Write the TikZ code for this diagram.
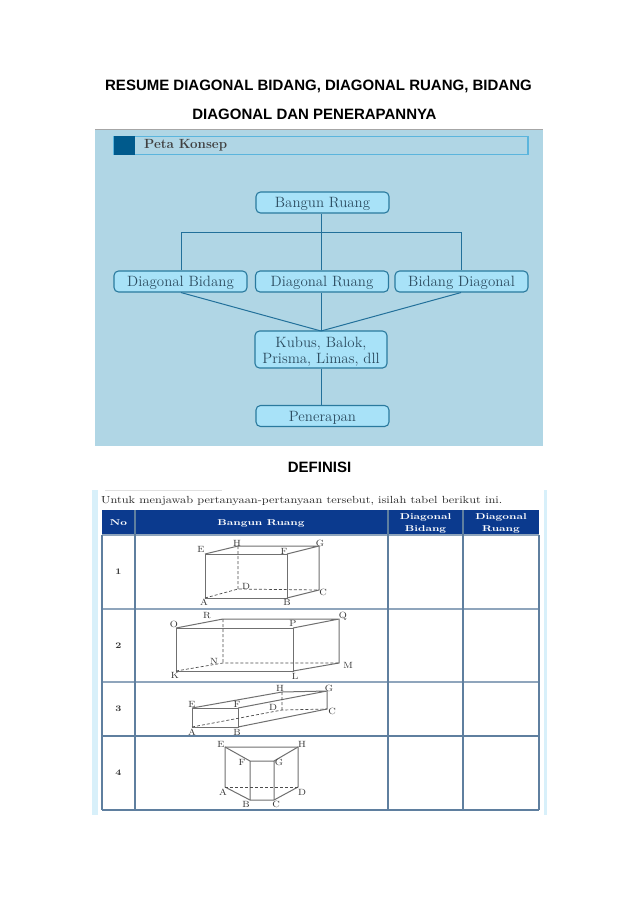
\documentclass[tikz,border=0pt]{standalone}
\usepackage{fontspec}
\setsansfont{Liberation Sans}
\definecolor{panel}{HTML}{B0D6E5}
\definecolor{boxfill}{HTML}{A8E2F8}
\definecolor{boxline}{HTML}{2A7A9E}
\definecolor{conn}{HTML}{22709A}
\definecolor{barline}{HTML}{5BB5DD}
\definecolor{square}{HTML}{005A8C}
\definecolor{boxtext}{HTML}{2C4C60}
\definecolor{headblue}{HTML}{0B3A8E}
\definecolor{tabline}{HTML}{5F7F9F}
\definecolor{strip}{HTML}{D8F0FA}
\definecolor{solidline}{HTML}{707070}
\tikzset{
 heading/.style={font=\sffamily\bfseries\fontsize{15}{17}\selectfont,text=black,inner sep=0pt,anchor=center},
 conceptbox/.style={draw=boxline,line width=1.1pt,fill=boxfill,rounded corners=4.5pt,minimum width=133pt,minimum height=21pt,inner sep=0pt,align=center,text=boxtext,font=\fontsize{14.9}{16}\selectfont},
 singleline/.style={text height=11pt,text depth=1pt},
 link/.style={draw=conn,line width=1pt},
 headtext/.style={text=white,font=\bfseries\fontsize{8.5}{12}\selectfont,inner sep=0pt,align=center,xscale=1.33,transform shape},
 rowno/.style={text=black!80,font=\bfseries\fontsize{8.5}{10}\selectfont,inner sep=0pt,xscale=1.2,transform shape},
 vlabel/.style={text=black!80,font=\fontsize{9}{10}\selectfont,inner sep=0pt,xscale=1.12,transform shape},
 solidedge/.style={draw=solidline,line width=1pt},
 hiddenedge/.style={draw=black!70,line width=0.7pt,densely dashed},
 tabrule/.style={draw=tabline,line width=1.2pt},
}
\begin{document}
\begin{tikzpicture}[x=1pt,y=-1pt]
\useasboundingbox (0,0) rectangle (638,903);
\fill[white] (0,0) rectangle (638,903);
\node[heading] (t1) at (318.5,86) {RESUME DIAGONAL BIDANG, DIAGONAL RUANG, BIDANG};
\node[heading] (t2) at (314.5,114) {DIAGONAL DAN PENERAPANNYA};
\node[heading] (t3) at (319.5,467) {DEFINISI};
% concept panel
\fill[panel] (95,129) rectangle (543,446);
\draw[black!35,line width=0.6pt] (95,129) -- (543,129);
\draw[barline,line width=1.2pt] (114,136.5) rectangle (528,154.5);
\fill[square] (114,136) rectangle (135,155);
\node[anchor=west,inner sep=0pt,text=black!75,font=\bfseries\fontsize{13.3}{15}\selectfont] (pk) at (144,145) {Peta Konsep};
\node[conceptbox,singleline] (br) at (322.5,202.5) {Bangun Ruang};
\node[conceptbox,singleline] (db) at (180.5,281.5) {Diagonal Bidang};
\node[conceptbox,singleline] (dr) at (322,281.5) {Diagonal Ruang};
\node[conceptbox,singleline] (bd) at (461.5,281.5) {Bidang Diagonal};
\node[conceptbox,minimum height=37pt,minimum width=132pt] (kb) at (321,349.5) {\rule{0pt}{15pt}Kubus, Balok,\\Prisma, Limas, dll};
\node[conceptbox,singleline] (pn) at (322.5,416) {Penerapan};
\coordinate (jl) at (181,232);
\coordinate (jr) at (461,232);
\coordinate (jc) at (321,232);
\coordinate (kt) at (321,331);
\path[link] (jl) -- (jr);
\path[link] (jl) -- (jl |- db.north);
\path[link] (jr) -- (jr |- bd.north);
\path[link] (jc |- br.south) -- (jc |- dr.north);
\path[link] (jl |- db.south) -- (kt);
\path[link] (jc |- dr.south) -- (kt);
\path[link] (jr |- bd.south) -- (kt);
\path[link] (jc |- kb.south) -- (jc |- pn.north);
% table
\fill[strip] (92,490) rectangle (98,815);
\fill[strip] (544,490) rectangle (547,815);
\draw[black!12,line width=0.6pt] (105,490) -- (222,490);
\node[anchor=west,inner sep=0pt,text=black!85,font=\fontsize{10.3}{12}\selectfont,xscale=1.2,transform shape] (intro) at (101,500.5) {Untuk menjawab pertanyaan-pertanyaan tersebut, isilah tabel berikut ini.};
\fill[headblue] (102,510) rectangle (539,535);
\draw[tabline!70,line width=1.2pt] (102,535) -- (539,535) (102,609) -- (539,609) (102,682) -- (539,682);
\draw[tabrule] (102,736) -- (539,736) (102,810) -- (539,810);
\draw[tabrule] (102,535) -- (102,810) (135,510) -- (135,810) (388,510) -- (388,810) (463,510) -- (463,810) (539,535) -- (539,810);
\node[headtext] (hno) at (118.5,523) {No};
\node[headtext] (hbr) at (261,523) {Bangun Ruang};
\node[headtext] (hdb) at (425.5,523) {Diagonal\\Bidang};
\node[headtext] (hdr) at (501,523) {Diagonal\\Ruang};
\node[rowno] (r1) at (118.5,572) {1};
\node[rowno] (r2) at (118.5,646) {2};
\node[rowno] (r3) at (118.5,709) {3};
\node[rowno] (r4) at (118.5,773) {4};
% solid 1
\path[solidedge] (205,554) -- (287,554) -- (287,598) -- (205,598) -- cycle;
\path[solidedge] (205,554) -- (238,546) -- (319,546) -- (319,590) -- (287,598) (287,554) -- (319,546);
\path[hiddenedge] (238,546) -- (238,589) (205,598) -- (238,589) -- (319,590);
\node[vlabel] (a1) at (201,549) {E};
\node[vlabel] (a2) at (237,543) {H};
\node[vlabel] (a3) at (284,551) {F};
\node[vlabel] (a4) at (320,543) {G};
\node[vlabel] (a5) at (246,586) {D};
\node[vlabel] (a6) at (323,592) {C};
\node[vlabel] (a7) at (204,602.5) {A};
\node[vlabel] (a8) at (287,602) {B};
% solid 2
\path[solidedge] (176,628) -- (293,628) -- (293,671) -- (176,671) -- cycle;
\path[solidedge] (176,628) -- (223,619) -- (339,619) -- (339,663) -- (293,671) (293,628) -- (339,619);
\path[hiddenedge] (223,619) -- (223,663) (176,671) -- (223,663) -- (339,663);
\node[vlabel] (b1) at (174,624) {O};
\node[vlabel] (b2) at (207,616) {R};
\node[vlabel] (b3) at (293,623) {P};
\node[vlabel] (b4) at (343,616) {Q};
\node[vlabel] (b5) at (214,661) {N};
\node[vlabel] (b6) at (348,665) {M};
\node[vlabel] (b7) at (175,675) {K};
\node[vlabel] (b8) at (295,676) {L};
% solid 3
\path[solidedge] (192,708) -- (238,708) -- (238,727) -- (192,727) -- cycle;
\path[solidedge] (192,708) -- (282,692) -- (327,691) -- (327,709) -- (238,727) (238,708) -- (327,691);
\path[hiddenedge] (282,692) -- (282,710) (192,727) -- (282,710) -- (327,709);
\node[vlabel] (c1) at (192,704) {E};
\node[vlabel] (c2) at (237,704) {F};
\node[vlabel] (c3) at (280,688) {H};
\node[vlabel] (c4) at (329,688) {G};
\node[vlabel] (c5) at (273,707) {D};
\node[vlabel] (c6) at (332,711) {C};
\node[vlabel] (c7) at (192,732) {A};
\node[vlabel] (c8) at (237,732) {B};
% solid 4
\path[solidedge] (225,747) -- (298,747) -- (298,787) -- (274,800) -- (250,800) -- (225,787) -- cycle;
\path[solidedge] (225,747) -- (250,761) -- (274,761) -- (298,747) (250,761) -- (250,800) (274,761) -- (274,800);
\path[hiddenedge] (225,787) -- (298,787);
\node[vlabel] (d1) at (221,744) {E};
\node[vlabel] (d2) at (302,744) {H};
\node[vlabel] (d3) at (242,762) {F};
\node[vlabel] (d4) at (279,762) {G};
\node[vlabel] (d5) at (223,792) {A};
\node[vlabel] (d6) at (302,792) {D};
\node[vlabel] (d7) at (246,804) {B};
\node[vlabel] (d8) at (276,804) {C};
\end{tikzpicture}
\end{document}
